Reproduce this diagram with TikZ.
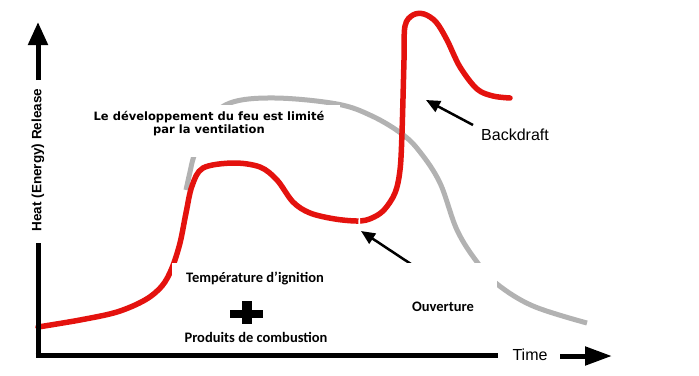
\documentclass[tikz,border=0pt]{standalone}
\usepackage{fontspec}
\setmainfont{Liberation Sans}
\newfontfamily\tahomafont{DejaVu Sans}
\newfontfamily\calfont{Carlito}
\newfontfamily\arialfont{Liberation Sans}
\usetikzlibrary{arrows.meta}
\definecolor{firered}{RGB}{228,18,14}
\definecolor{curvegray}{RGB}{178,178,178}
\tikzset{
  axisline/.style={line width=5pt, black},
  redcurve/.style={line width=5.5pt, firered, line cap=round, line join=round},
  graycurve/.style={line width=5pt, curvegray, line cap=butt},
  thinarrow/.style={line width=2.5pt, black, -{Triangle[length=14pt,width=12pt]}},
  whitebox/.style={fill=white, draw=none},
  toplabel/.style={font=\tahomafont\bfseries\fontsize{11.5}{13}\selectfont, align=center, inner sep=0pt},
  callabel/.style={font=\calfont\bfseries\fontsize{14.5}{17}\selectfont, inner sep=0pt, anchor=base},
  arlabel/.style={font=\arialfont\fontsize{16}{19}\selectfont, inner sep=0pt, anchor=base}
}
\begin{document}
\begin{tikzpicture}[x=1pt,y=-1pt]
\useasboundingbox (0,0) rectangle (699,375);
% gray curve
\draw[graycurve] plot[smooth, tension=0.6] coordinates {(186,190) (190,172) (194,156) (206,124) (230,103) (275,98) (337,104) (372,116) (402,134) (420,152) (440,183) (457,230) (477,262) (497,284) (533,306) (587,323)};
% red curve
\draw[redcurve] plot[smooth, tension=0.55] coordinates {(38,327) (80,320) (117,312) (145,300) (162,286) (172,268) (180,243) (186,213) (192,186) (203,168) (233,163) (260,167) (277,180) (293,202) (310,213) (335,219) (359,221) (372,218) (384,210) (395,193) (400,170) (402,133) (404,60) (405,26) (413,15) (424,14) (436,22) (447,40) (460,67) (477,89) (493,96) (510,98)};
\draw[white, line width=1.6pt] (359.5,213) -- (359,230);
% axes
\coordinate (origin) at (38,357);
\coordinate (ylow) at (38,243);
\coordinate (yhigh) at (38,80);
\coordinate (ytip) at (38,22);
\coordinate (xend) at (498,355);
\coordinate (xastart) at (560,356);
\coordinate (xtip) at (612,356);
\draw[axisline] (origin) -- (ylow);
\draw[axisline, -{Triangle[length=23pt,width=19pt]}] (yhigh) -- (ytip);
\draw[axisline] (35.5,355) -- (xend);
\draw[axisline, -{Triangle[length=27pt,width=18pt]}] (xastart) -- (xtip);
% Ouverture arrow (tail under box)
\coordinate (ouvtail) at (420,270);
\coordinate (ouvtip) at (361,231);
\draw[thinarrow] (ouvtail) -- (ouvtip);
% white boxes
\fill[whitebox] (88,105) rectangle (340,157);
\fill[whitebox] (172,263) rectangle (497,352);
% Backdraft arrow
\node[arlabel] (backdraft) at (515,140) {Backdraft};
\coordinate (bdtail) at (473,125);
\coordinate (bdtip) at (426,100);
\draw[thinarrow] (bdtail) -- (bdtip);
% labels
\node[toplabel] (devel) at (209,124) {Le développement du feu est limité\\par la ventilation};
\node[callabel] (temp) at (255,282) {Température d’ignition};
\node[callabel] (prod) at (256,342) {Produits de combustion};
\node[callabel] (ouv) at (443,311) {Ouverture};
\node[arlabel] (time) at (530,360) {Time};
\node[font=\arialfont\bfseries\fontsize{13.5}{16}\selectfont, rotate=90, inner sep=0pt] (ylab) at (38,160) {Heat (Energy) Release};
% plus sign
\fill[black] (230,309.5) rectangle (263,317.5);
\fill[black] (242,301) rectangle (251.5,323.5);
\end{tikzpicture}
\end{document}
